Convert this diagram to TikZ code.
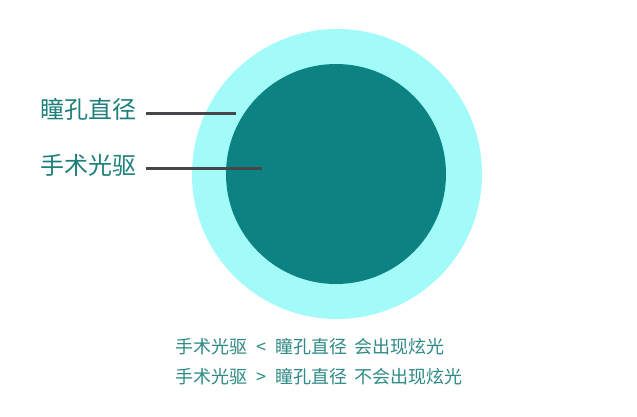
\documentclass[tikz,border=0pt]{standalone}
\usepackage{fontspec}
\newfontfamily\cjk{Noto Sans CJK SC}
\definecolor{outerc}{HTML}{A2FBF9}
\definecolor{innerc}{HTML}{0C8282}
\definecolor{labelc}{HTML}{1E7F7B}
\definecolor{notec}{HTML}{2E8A86}
\definecolor{linec}{HTML}{45454A}
\tikzset{
  lbl/.style={font=\cjk\fontsize{24}{28}\selectfont, text=labelc, inner sep=0pt, anchor=west},
  note/.style={font=\cjk\fontsize{18}{22}\selectfont, text=notec, inner sep=0pt, anchor=west},
  leader/.style={draw=linec, line width=3pt}
}
\begin{document}
\begin{tikzpicture}[x=1pt,y=-1pt]
\useasboundingbox (0,0) rectangle (637,416);
\fill[white] (0,0) rectangle (637,416);
\node[circle, fill=outerc, minimum size=290pt, inner sep=0pt] (outer) at (337,174) {};
\node[circle, fill=innerc, minimum size=220pt, inner sep=0pt] (inner) at (336,174) {};
\node[lbl] (pupil) at (40,109) {瞳孔直径};
\node[lbl] (beam) at (40,165) {手术光驱};
\coordinate (pupilend) at (236,113);
\coordinate (beamend) at (262,168);
\draw[leader] (146,113) coordinate (pupilstart) -- (pupilend);
\draw[leader] (146,168) coordinate (beamstart) -- (beamend);
\node[note] (n1) at (175,347) {手术光驱\hspace{9pt}<\hspace{9pt}瞳孔直径\hspace{7pt}会出现炫光};
\node[note] (n2) at (175,377) {手术光驱\hspace{9pt}>\hspace{9pt}瞳孔直径\hspace{7pt}不会出现炫光};
\end{tikzpicture}
\end{document}
